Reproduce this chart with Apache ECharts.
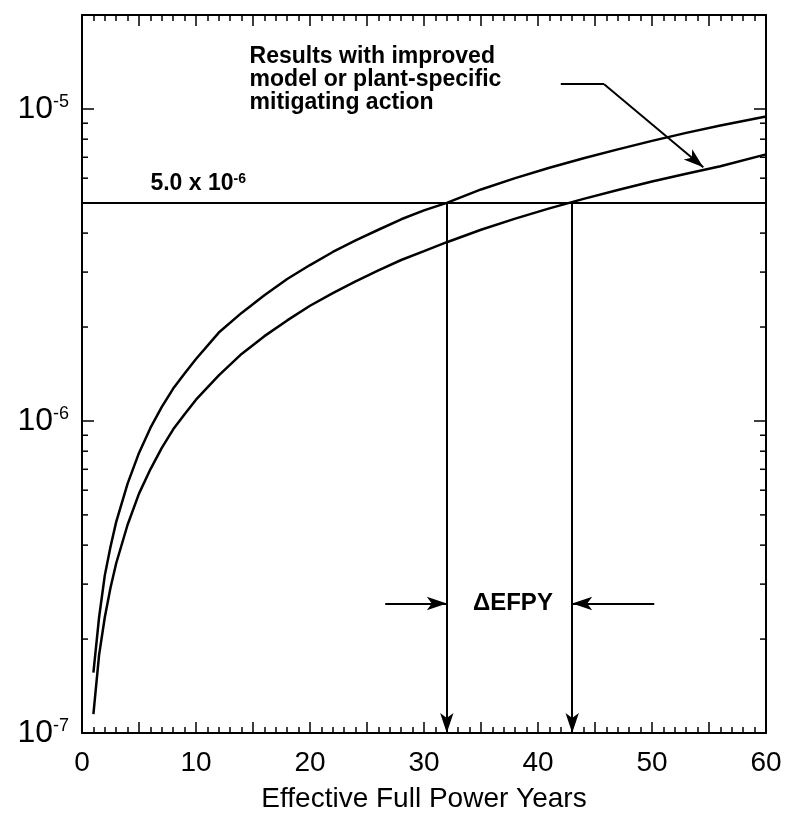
<!DOCTYPE html>
<html>
<head>
<meta charset="utf-8">
<title>Effective Full Power Years</title>
<script src="https://cdn.jsdelivr.net/npm/echarts@6/dist/echarts.min.js"></script>
<style>
  html, body { margin: 0; padding: 0; background: #fff; }
  #chart { width: 789px; height: 821px; }
</style>
</head>
<body>
<div id="chart"></div>
<script>
// Effective full power years at which both curves are sampled
const years = [1, 1.5, 2, 2.5, 3, 4, 5, 6, 7, 8, 9, 10, 12, 14, 16, 18, 20, 22, 24, 26, 28, 30,
               32, 35, 38, 41, 44, 47, 50, 53, 56, 60];

// Frequency with the baseline evaluation
const baseFreq = [1.56e-7, 2.35e-7, 3.2e-7, 3.95e-7, 4.75e-7, 6.3e-7, 7.9e-7, 9.5e-7, 1.11e-6, 1.27e-6,
                  1.42e-6, 1.58e-6, 1.92e-6, 2.22e-6, 2.53e-6, 2.85e-6, 3.16e-6, 3.48e-6, 3.79e-6, 4.10e-6,
                  4.43e-6, 4.73e-6, 5.0e-6, 5.52e-6, 6.0e-6, 6.48e-6, 6.95e-6, 7.42e-6, 7.9e-6, 8.38e-6,
                  8.85e-6, 9.45e-6];

// Frequency with the improved model or plant-specific mitigating action
const improvedFreq = [1.15e-7, 1.78e-7, 2.35e-7, 2.92e-7, 3.5e-7, 4.65e-7, 5.85e-7, 7.0e-7, 8.2e-7, 9.4e-7,
                      1.05e-6, 1.17e-6, 1.40e-6, 1.64e-6, 1.87e-6, 2.10e-6, 2.34e-6, 2.57e-6, 2.80e-6, 3.04e-6,
                      3.28e-6, 3.50e-6, 3.74e-6, 4.10e-6, 4.45e-6, 4.80e-6, 5.15e-6, 5.50e-6, 5.85e-6, 6.20e-6,
                      6.55e-6, 7.15e-6];

// Screening limit and the years at which each curve reaches it
const limitValue = 5.0e-6;
const crossingYears = [32, 43];

// Labelled x ticks and the log-axis minor ticks (2..9 of every decade)
const xTickLabels = [0, 10, 20, 30, 40, 50, 60];
const yMinorTicks = [2e-7, 3e-7, 4e-7, 5e-7, 6e-7, 7e-7, 8e-7, 9e-7,
                     2e-6, 3e-6, 4e-6, 5e-6, 6e-6, 7e-6, 8e-6, 9e-6];

const FONT = '"Liberation Sans", Arial, Helvetica, sans-serif';
const BLACK = '#000';

function expOf(v) { return Math.floor(Math.log10(v) + 1e-9); }

const limitExp = expOf(limitValue);
const limitMant = (limitValue / Math.pow(10, limitExp)).toFixed(1);

function xAxisDef(pos, showLabels) {
  return {
    type: 'value', position: pos, min: 0, max: 60, interval: 5,
    name: showLabels ? 'Effective Full Power Years' : '',
    nameLocation: 'middle', nameGap: 52,
    nameTextStyle: { fontSize: 28, color: BLACK, fontFamily: FONT },
    axisLine: { show: true, onZero: false, lineStyle: { color: BLACK, width: 2 } },
    axisTick: { show: true, inside: true, length: 11, lineStyle: { color: BLACK, width: 1.5 } },
    minorTick: { show: true, splitNumber: 5, length: 6, lineStyle: { color: BLACK, width: 1.5 } },
    splitLine: { show: false }, minorSplitLine: { show: false },
    axisLabel: {
      show: showLabels, fontSize: 28, color: BLACK, fontFamily: FONT, margin: 16,
      formatter: v => xTickLabels.indexOf(Math.round(v)) >= 0 && Math.abs(v - Math.round(v)) < 1e-9 ? String(Math.round(v)) : ''
    }
  };
}

function yAxisDef(pos, showLabels) {
  return {
    type: 'log', logBase: 10, position: pos, min: 1e-7, max: 2e-5,
    axisLine: { show: true, onZero: false, lineStyle: { color: BLACK, width: 2 } },
    axisTick: { show: true, inside: true, length: 12, lineStyle: { color: BLACK, width: 1.5 } },
    minorTick: { show: false },
    splitLine: { show: false },
    axisLabel: {
      show: showLabels, margin: 13, color: BLACK, fontFamily: FONT,
      formatter: v => {
        const e = Math.log10(v);
        if (Math.abs(e - Math.round(e)) > 1e-6) return '';
        return '{b|10}{s|' + Math.round(e) + '}';
      },
      rich: {
        b: { fontSize: 32, lineHeight: 32, color: BLACK, fontFamily: FONT },
        s: { fontSize: 18, lineHeight: 16, verticalAlign: 'top', color: BLACK, fontFamily: FONT }
      }
    }
  };
}

const arrowLine = { color: BLACK, width: 2, type: 'solid' };
const boldText = { color: BLACK, fontFamily: FONT, fontWeight: 'bold' };

const option = {
  animation: false,
  backgroundColor: '#fff',
  textStyle: { fontFamily: FONT, color: BLACK },
  grid: { left: 82, right: 23, top: 15, bottom: 88 },
  xAxis: [xAxisDef('bottom', true), xAxisDef('top', false)],
  yAxis: [yAxisDef('left', true), yAxisDef('right', false)],
  series: [
    {
      // baseline curve, with the horizontal screening limit
      type: 'line', xAxisIndex: 0, yAxisIndex: 0, silent: true,
      data: years.map((t, i) => [t, baseFreq[i]]),
      symbol: 'none', lineStyle: { color: BLACK, width: 2.5 },
      markLine: {
        silent: true, symbol: 'none', label: { show: false },
        lineStyle: { color: BLACK, width: 2, type: 'solid' },
        data: [[{ coord: [0, limitValue] }, { coord: [60, limitValue] }]]
      }
    },
    {
      // improved curve, with the vertical arrows dropped from the limit crossings
      type: 'line', xAxisIndex: 0, yAxisIndex: 0, silent: true,
      data: years.map((t, i) => [t, improvedFreq[i]]),
      symbol: 'none', lineStyle: { color: BLACK, width: 2.5 },
      markLine: {
        silent: true, symbol: ['none', 'arrow'], symbolSize: [10, 20], label: { show: false },
        lineStyle: arrowLine,
        data: crossingYears.map(t => [{ coord: [t, limitValue] }, { coord: [t, 1e-7] }])
      }
    },
    {
      // text annotations, plus the delta-EFPY and callout arrows
      type: 'scatter', xAxisIndex: 0, yAxisIndex: 0, silent: true, symbolSize: 0,
      itemStyle: { opacity: 1, color: BLACK },
      label: Object.assign({ show: true, position: [0, 0] }, boldText),
      data: [
        {
          value: [14.7, 1.6e-5],
          label: Object.assign({
            formatter: 'Results with improved\nmodel or plant-specific\nmitigating action',
            fontSize: 23, lineHeight: 23, align: 'left', verticalAlign: 'top'
          }, boldText)
        },
        {
          value: [6, limitValue],
          label: {
            formatter: '{m|' + limitMant + ' x 10}{e|' + limitExp + '}',
            align: 'left', verticalAlign: 'bottom', offset: [0, -8], color: BLACK,
            rich: {
              m: Object.assign({ fontSize: 23, lineHeight: 23 }, boldText),
              e: Object.assign({ fontSize: 14, lineHeight: 14, verticalAlign: 'top' }, boldText)
            }
          }
        },
        {
          value: [(crossingYears[0] + crossingYears[1]) / 2 + 0.3, 2.6e-7],
          label: Object.assign({ formatter: 'ΔEFPY', fontSize: 24, align: 'center', verticalAlign: 'middle' }, boldText)
        }
      ],
      markLine: {
        silent: true, symbol: ['none', 'arrow'], symbolSize: [10, 20],
        label: { show: false }, lineStyle: arrowLine,
        data: [
          [{ coord: [26.6, 2.6e-7] }, { coord: [crossingYears[0], 2.6e-7] }],
          [{ coord: [50.2, 2.6e-7] }, { coord: [crossingYears[1], 2.6e-7] }],
          [{ coord: [42.0, 1.2e-5], symbol: 'none' }, { coord: [45.8, 1.2e-5], symbol: 'none' }],
          [{ coord: [45.8, 1.2e-5] }, { coord: [54.5, 6.5e-6] }]
        ]
      }
    },
    {
      // minor ticks of the log axis, on both the left and right frame edges
      type: 'custom', xAxisIndex: 0, yAxisIndex: 0, silent: true, clip: false,
      data: yMinorTicks.map(v => [0, v]),
      encode: { x: 0, y: 1 },
      renderItem: (params, api) => {
        const y = api.coord([0, api.value(1)])[1];
        const cs = params.coordSys;
        const st = { stroke: BLACK, lineWidth: 1.5 };
        return {
          type: 'group',
          children: [
            { type: 'line', shape: { x1: cs.x, y1: y, x2: cs.x + 6, y2: y }, style: st },
            { type: 'line', shape: { x1: cs.x + cs.width - 6, y1: y, x2: cs.x + cs.width, y2: y }, style: st }
          ]
        };
      }
    }
  ]
};

const chart = echarts.init(document.getElementById('chart'), null, { renderer: 'canvas' });
chart.setOption(option);
</script>
</body>
</html>
